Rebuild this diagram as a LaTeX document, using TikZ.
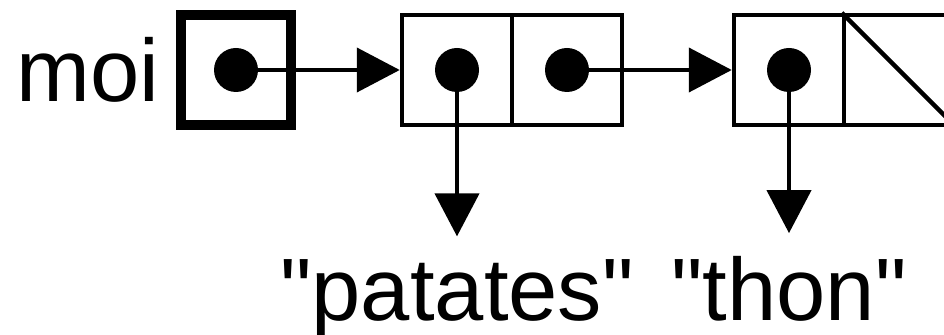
\documentclass[tikz,border=0pt]{standalone}
\usepackage{fontspec}
\setmainfont{Liberation Sans}[Ligatures=TeXOff]
\usetikzlibrary{arrows.meta,positioning}

\tikzset{
    cell/.style={draw,line width=0.045cm,minimum size=1.1cm,inner sep=0},
    ref/.style={line width=0.043cm,-{Triangle[length=0.43cm,width=0.44cm]}},
    word/.style={font=\fontsize{25.2}{30}\selectfont,inner sep=0.22cm},
}
\newcommand{\dotin}[1]{\fill (#1.center) circle (0.22);}

\begin{document}
\begin{tikzpicture}
        \useasboundingbox (0,0) rectangle (9.44,-3.35);
        %% the variable
        \node[cell,line width=0.1cm] (ptr) at (2.36,-0.7) {};
        \node[word,left=0.16cm of ptr,inner sep=0] (moi) {moi};
        %% first pair
        \node[cell] (a1) at (4.57,-0.7) {};
        \node[cell] (a2) at (5.67,-0.7) {};
        %% second pair (empty tail)
        \node[cell] (b1) at (7.89,-0.7) {};
        \node[cell] (b2) at (8.99,-0.7) {};
        \draw[line width=0.045cm] (b2.north west) -- (b2.south east);
        %% strings
        \node[word,anchor=base] (pat) at (4.57,-3.20) {"patates"};
        \node[word,anchor=base] (thon) at (7.89,-3.20) {"thon"};
        %% pointers
        \dotin{ptr} \dotin{a1} \dotin{a2} \dotin{b1}
        \draw[ref] (ptr.center) -- (a1.west);
        \draw[ref] (a2.center) -- (b1.west);
        \draw[ref] (a1.center) -- (pat.north);
        \draw[ref] (b1.center) -- (thon.north);
    \end{tikzpicture}
\end{document}
